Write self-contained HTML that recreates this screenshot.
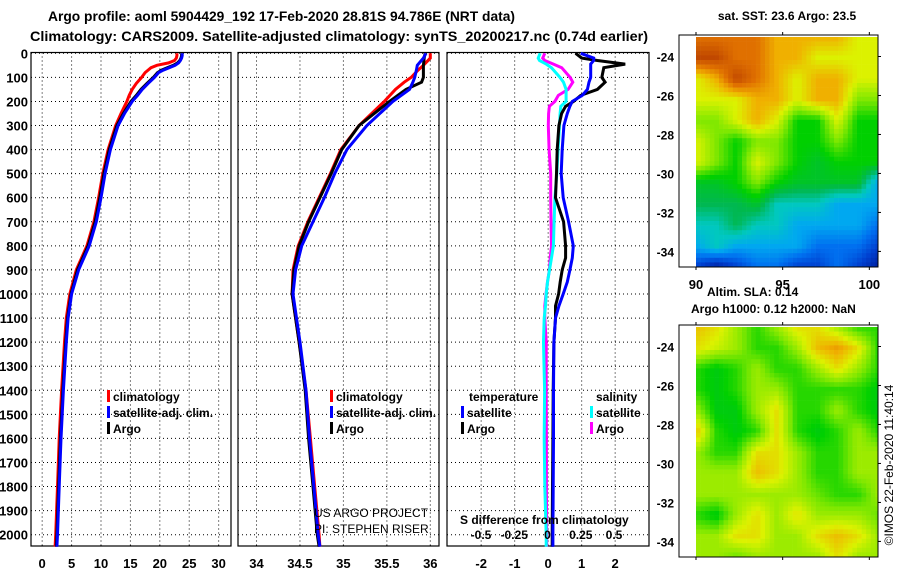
<!DOCTYPE html>
<html><head><meta charset="utf-8"><style>
html,body{margin:0;padding:0;background:#fff;}
svg{display:block;font-family:"Liberation Sans",Arial,sans-serif;}
.b{font-weight:bold;}
</style></head><body>
<svg id="fig" width="900" height="580" viewBox="0 0 900 580" xmlns="http://www.w3.org/2000/svg">
<rect x="0" y="0" width="900" height="580" fill="#fff"/>
<text class="b" x="48" y="21" font-size="14" textLength="467" lengthAdjust="spacingAndGlyphs">Argo profile: aoml 5904429_192 17-Feb-2020 28.81S 94.786E (NRT data)</text>
<text class="b" x="30" y="41" font-size="14" textLength="618" lengthAdjust="spacingAndGlyphs">Climatology: CARS2009. Satellite-adjusted climatology: synTS_20200217.nc (0.74d earlier)</text>
<g id="panels"></g>
<g id="maps"></g>
<text class="b" x="787" y="20" font-size="12" text-anchor="middle">sat. SST: 23.6 Argo: 23.5</text>
<text class="b" x="707" y="296" font-size="12">Altim. SLA: 0.14</text>
<text class="b" x="691" y="313" font-size="12">Argo h1000: 0.12 h2000: NaN</text>
<text x="893" y="465" font-size="12" text-anchor="middle" transform="rotate(-90 893 465)">©IMOS 22-Feb-2020 11:40:14</text>
</svg>
<script>
// ---------- data ----------
const depthsT = [0,10,20,30,40,50,60,70,80,100,125,150,175,200,250,300,400,500,600,700,800,900,1000,1100,1200,1400,1600,1800,2000,2050];
const tempArgo = [23.7,23.7,23.6,23.4,23.0,22.3,21.3,20.3,19.6,18.9,17.8,16.8,16.0,15.1,13.8,12.7,11.4,10.5,9.8,9.0,7.8,6.0,4.9,4.3,4.0,3.5,3.1,2.8,2.5,2.4];
const tempSat  = [23.8,23.8,23.7,23.5,23.2,22.6,21.6,20.6,19.8,19.1,18.0,17.0,16.2,15.3,14.0,12.9,11.6,10.7,10.0,9.2,8.0,6.2,5.0,4.4,4.1,3.6,3.2,2.9,2.6,2.5];
const tempClim = [22.9,22.9,22.8,22.5,21.5,19.5,18.5,18.0,17.5,16.9,16.0,15.3,14.8,14.4,13.4,12.5,11.2,10.3,9.6,8.8,7.6,5.8,4.7,4.1,3.8,3.3,2.9,2.6,2.3,2.2];
const depthsS = [0,20,50,70,100,120,150,200,300,400,500,600,700,800,900,1000,1200,1400,1600,1800,2000,2050];
const salArgo = [35.94,35.93,35.92,35.92,35.92,35.90,35.72,35.53,35.18,34.98,34.86,34.73,34.60,34.49,34.43,34.41,34.49,34.56,34.60,34.65,34.70,34.72];
const salSat  = [35.95,35.92,35.85,35.84,35.82,35.80,35.76,35.57,35.27,35.04,34.90,34.78,34.65,34.52,34.45,34.42,34.50,34.57,34.61,34.66,34.71,34.73];
const salClim = [36.00,36.00,35.92,35.86,35.78,35.70,35.60,35.47,35.18,34.97,34.85,34.72,34.59,34.48,34.42,34.41,34.49,34.57,34.62,34.67,34.72,34.73];
const depthsD = [0,20,30,45,60,100,120,150,175,200,220,250,300,400,500,600,700,800,850,900,950,1000,1050,1100,1200,1400,1600,1800,2000,2050];
const dTArgo = [0.82,1.0,1.47,2.3,1.66,1.6,1.7,1.47,0.97,0.76,0.52,0.4,0.32,0.27,0.25,0.22,0.46,0.52,0.52,0.42,0.36,0.31,0.22,0.22,0.17,0.15,0.14,0.13,0.12,0.12];
const dTSat  = [0.97,1.36,1.36,1.27,1.27,1.27,1.22,1.17,1.02,0.72,0.65,0.57,0.47,0.42,0.39,0.45,0.61,0.75,0.72,0.65,0.57,0.45,0.32,0.22,0.17,0.16,0.16,0.15,0.14,0.14];
const dSArgo = [-0.02,-0.036,-0.02,0.044,0.107,0.17,0.19,0.155,0.081,0.056,0.014,0.008,0.006,0.012,0.024,0.024,0.026,0.03,0.02,0.014,0.0,-0.011,-0.02,-0.02,-0.01,-0.01,-0.008,-0.008,-0.006,-0.006];
const dSSat  = [-0.056,-0.07,-0.06,-0.01,0.03,0.094,0.12,0.14,0.14,0.14,0.1,0.095,0.09,0.08,0.07,0.056,0.05,0.044,0.03,0.015,0.0,-0.01,-0.015,-0.025,-0.03,-0.022,-0.025,-0.02,-0.01,-0.01];
const depthTicks = [0,100,200,300,400,500,600,700,800,900,1000,1100,1200,1300,1400,1500,1600,1700,1800,1900,2000];
const tTicks = [0,5,10,15,20,25,30];
const sTicks = [34,34.5,35,35.5,36];
const sTickLabels = ["34","34.5","35","35.5","36"];
const dTicks = [-2,-1,0,1,2];
const dsTickVals = [-0.5,-0.25,0,0.25,0.5];
const dsTickLabels = ["-0.5","-0.25","0","0.25","0.5"];
// SST map grid (colour index), rows -23 .. -34.5, cols 90 .. 100.5
const sstGrid = [
[10,10,10,10,9,9,9,9,8,8],
[11,11,10,10,9,9,8,8,8,8],
[8,9,11,10,9,8,9,9,8,8],
[8,8,8,9,9,8,9,9,7,7],
[7,7,8,9,8,6,6,8,6,6],
[8,7,6,7,7,6,6,7,6,6],
[8,7,6,8,7,6,5.5,6,6,6],
[5.5,5.5,6,7,6,5.5,5.5,5.5,5.5,3],
[5,5,5,5.5,4,4,4,3,3,3],
[4,4,5,4,4,3,3,3,3,2],
[3,4,3,3,3,3,2,2,2,1],
[1,0,1,2,2,1,1,2,1,0]];
const slaGrid = [
[8.8,8.3,7.3,6.3,7.3,8.3,8.3,7.3,6.3,6.3],
[8.3,7.8,7.3,6.3,6.3,7.3,8.8,9.3,8.3,6.3],
[6.3,5.8,6.3,7.3,6.3,6.3,7.3,8.3,7.3,6.3],
[6.3,5.8,6.3,7.3,7.3,6.3,6.3,6.3,6.3,5.8],
[7.3,5.8,5.8,7.3,8.3,6.3,6.3,7.3,6.3,5.8],
[8.8,6.3,5.8,6.3,8.3,6.3,5.8,6.3,7.3,6.3],
[7.3,6.3,6.3,8.3,8.3,7.3,6.3,6.3,7.3,7.3],
[7.3,7.3,7.3,8.8,8.3,7.3,6.3,6.3,7.3,7.3],
[7.3,7.3,7.3,7.3,7.3,7.3,6.8,6.3,6.3,7.3],
[6.3,5.8,7.3,8.3,7.3,8.3,7.3,7.3,7.3,6.8],
[7.3,7.3,8.3,8.3,7.3,7.3,8.3,8.8,8.3,7.3],
[7.3,7.3,6.8,7.3,7.3,7.3,7.3,8.3,7.3,7.3]];
const latTicks = [-24,-26,-28,-30,-32,-34];
const lonTicks = [90,95,100];

// ---------- helpers ----------
const NS = "http://www.w3.org/2000/svg";
function mk(tag, attrs, parent){ const e=document.createElementNS(NS,tag); for(const k in attrs) e.setAttribute(k,attrs[k]); parent.appendChild(e); return e; }
const Y0 = 53.3, YS = 0.2407, YT = 52.5, YB = 546;
function yD(d){ return Y0 + d*YS; }
const panels = document.getElementById('panels');

function panel(name, left, right, xmin, xmax, gridVals){
  const g = mk('g', {}, panels);
  
  
  const xs = v => left + (v - xmin)/(xmax - xmin)*(right-left);
  gridVals.forEach(v=>{ const x=xs(v); const l=mk('line',{x1:x,x2:x,y1:YT,y2:YB,stroke:'#000','stroke-width':1,'stroke-dasharray':'1,3'},g);   });
  depthTicks.forEach(d=>{ const y=yD(d); const l=mk('line',{x1:left,x2:right,y1:y,y2:y,stroke:'#000','stroke-width':1,'stroke-dasharray':'1,3'},g);   });
  const r = mk('rect',{x:left,y:YT,width:right-left,height:YB-YT,fill:'none',stroke:'#000','stroke-width':1.2},g);
   
  return {g, xs};
}
function line(p, depths, vals, color, name, w){
  const pts = depths.map((d,i)=> p.xs(vals[i]).toFixed(1)+','+yD(d).toFixed(1)).join(' ');
  const pl = mk('polyline',{points:pts,fill:'none',stroke:color,'stroke-width':w||3,'stroke-linejoin':'miter'},p.g);
  
  
}
function txt(parent, x, y, s, size, opts){
  const t = mk('text', Object.assign({x:x,y:y,'font-size':size}, opts||{}), parent);
  t.textContent = s; return t;
}

// ---------- panel 1: temperature ----------
const p1 = panel('temperature-panel', 31, 231, -1.9, 32.1, tTicks);
line(p1, depthsT, tempClim, '#ff0000', 'temp-climatology-line');
line(p1, depthsT, tempArgo, '#000000', 'temp-argo-line');
line(p1, depthsT, tempSat, '#0000ff', 'temp-satellite-line');
depthTicks.forEach(d=>{ const t=txt(panels, 28, yD(d)+5, String(d), 13, {'text-anchor':'end','font-weight':'bold'});   });
tTicks.forEach(v=>{ const t=txt(panels, p1.xs(v), 568, String(v), 13, {'text-anchor':'middle','font-weight':'bold'});   });

// ---------- panel 2: salinity ----------
const p2 = panel('salinity-panel', 238, 439, 33.787, 36.1, sTicks);
line(p2, depthsS, salClim, '#ff0000', 'sal-climatology-line');
line(p2, depthsS, salArgo, '#000000', 'sal-argo-line');
line(p2, depthsS, salSat, '#0000ff', 'sal-satellite-line');
sTicks.forEach((v,i)=>{ const t=txt(panels, p2.xs(v), 568, sTickLabels[i], 13, {'text-anchor':'middle','font-weight':'bold'});   });

// ---------- panel 3: differences ----------
const p3 = panel('difference-panel', 447, 649, -3.02, 3.01, dTicks);
const xsS = v => 547.5 + v*133;
function sline(depths, vals, color, name){
  const pts = depths.map((d,i)=> xsS(vals[i]).toFixed(1)+','+yD(d).toFixed(1)).join(' ');
  const pl = mk('polyline',{points:pts,fill:'none',stroke:color,'stroke-width':3},p3.g);
  
  
}
sline(depthsD, dSArgo, '#ff00ff', 'sal-diff-argo-line');
sline(depthsD, dSSat, '#00ffff', 'sal-diff-satellite-line');
line(p3, depthsD, dTArgo, '#000000', 'temp-diff-argo-line');
line(p3, depthsD, dTSat, '#0000ff', 'temp-diff-satellite-line');
dTicks.forEach(v=>{ const t=txt(panels, p3.xs(v), 568, String(v), 13, {'text-anchor':'middle','font-weight':'bold'});   });
const sdt = txt(panels, 460, 524, 'S difference from climatology', 12, {'font-weight':'bold'});
 
dsTickVals.forEach((v,i)=>{ const t=txt(panels, xsS(v), 539, dsTickLabels[i], 12, {'text-anchor':'middle','font-weight':'bold'});   });

// ---------- legends ----------
function legend(x, y, color, label, name){
  const g = mk('g',{},panels);
  
  
  mk('rect',{x:x,y:y-11,width:3,height:12,fill:color},g);
  txt(g, x+6, y, label, 12, {'font-weight':'bold'});
}
legend(107, 401, '#ff0000', 'climatology', 'legend-entry-climatology');
legend(107, 417, '#0000ff', 'satellite-adj. clim.', 'legend-entry-satellite-adj');
legend(107, 433, '#000000', 'Argo', 'legend-entry-argo');
legend(330, 401, '#ff0000', 'climatology', 'legend-entry-climatology');
legend(330, 417, '#0000ff', 'satellite-adj. clim.', 'legend-entry-satellite-adj');
legend(330, 433, '#000000', 'Argo', 'legend-entry-argo');
const lt = txt(panels, 469, 401, 'temperature', 12, {'font-weight':'bold'});  
const ls = txt(panels, 596, 401, 'salinity', 12, {'font-weight':'bold'});  
legend(461, 417, '#0000ff', 'satellite', 'legend-entry-temp-satellite');
legend(461, 433, '#000000', 'Argo', 'legend-entry-temp-argo');
legend(590, 417, '#00ffff', 'satellite', 'legend-entry-sal-satellite');
legend(590, 433, '#ff00ff', 'Argo', 'legend-entry-sal-argo');
const us1 = txt(panels, 314, 517, 'US ARGO PROJECT', 12, {});  
const us2 = txt(panels, 314, 533, 'PI: STEPHEN RISER', 12, {});  

// ---------- maps ----------
const palette = [[0,32,160],[0,64,208],[0,112,240],[0,168,240],[0,200,192],[0,184,80],[0,208,0],[128,232,0],[220,242,0],[240,176,0],[224,112,0],[192,72,0]];
function pcol(v){ v=Math.max(0,Math.min(palette.length-1,v)); const i=Math.floor(v), f=v-i; const a=palette[i], b=palette[Math.min(i+1,palette.length-1)]; return 'rgb('+a.map((c,k)=>Math.round(c+(b[k]-c)*f)).join(',')+')'; }
const maps = document.getElementById('maps');
function drawMap(name, grid, top, bot, cell){
  const g = mk('g',{},maps);
  
  
  const L=679, IL=696, R=878;
  const rows=grid.length, cols=grid[0].length;
  for(let y=top; y<bot; y+=cell){
    for(let x=IL; x<R; x+=cell){
      const gx = (x+cell/2-IL)/(R-IL)*(cols-1), gy=(y+cell/2-top)/(bot-top)*(rows-1);
      const i=Math.min(Math.floor(gx),cols-2), j=Math.min(Math.floor(gy),rows-2), fx=gx-i, fy=gy-j;
      const v = grid[j][i]*(1-fx)*(1-fy)+grid[j][i+1]*fx*(1-fy)+grid[j+1][i]*(1-fx)*fy+grid[j+1][i+1]*fx*fy;
      mk('rect',{x:x,y:y,width:Math.min(cell,R-x)+0.3,height:Math.min(cell,bot-y)+0.3,fill:pcol(v)},g);
    }
  }
  const fr = mk('rect',{x:L,y:top-2,width:R-L,height:bot-top+2,fill:'none',stroke:'#000','stroke-width':1},g);
   
  const latY = v => top + (-23 - v)/(11.8)*(bot-top) ;
  latTicks.forEach(v=>{ const y=latY(v);
    mk('line',{x1:R,x2:R+3,y1:y,y2:y,stroke:'#000'},g);
    const t=txt(g, 674, y+5, String(v), 12, {'text-anchor':'end','font-weight':'bold'});
      });
  const lonX = v => IL + (v-90)/10.5*(R-IL);
  lonTicks.forEach(v=>{ const x=lonX(v);
    mk('line',{x1:x,x2:x,y1:top-5,y2:top-2,stroke:'#000'},g);
    mk('line',{x1:x,x2:x,y1:bot,y2:bot+3,stroke:'#000'},g); });
  return lonX;
}
const lonX = drawMap('sst-map', sstGrid, 37, 267, 4.6);
lonTicks.forEach(v=>{ const t=txt(maps, lonX(v), 289, String(v), 13, {'text-anchor':'middle','font-weight':'bold'});   });
drawMap('sla-map', slaGrid, 327, 557, 4.6);
</script>
</body></html>
